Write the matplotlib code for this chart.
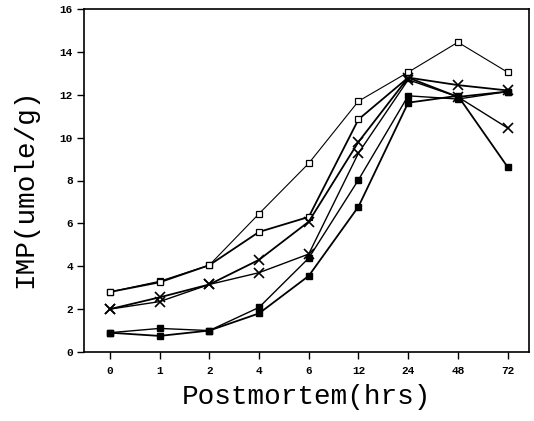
import matplotlib
matplotlib.use("Agg")
import matplotlib.pyplot as plt

categories = ["0", "1", "2", "4", "6", "12", "24", "48", "72"]

s_open_thin = [2.8, 3.3, 4.05, 6.45, 8.8, 11.7, 13.05, 14.45, 13.05]
s_open_thick = [2.8, 3.25, 4.05, 5.6, 6.3, 10.85, 12.8, 11.9, 12.15]
s_x_a = [2.0, 2.55, 3.15, 4.3, 6.08, 9.8, 12.8, 12.45, 12.2]
s_x_b = [2.0, 2.35, 3.15, 3.7, 4.57, 9.28, 12.7, 11.9, 10.45]
s_fill_a = [0.9, 1.1, 1.0, 2.08, 4.38, 8.03, 11.95, 11.8, 12.15]
s_fill_b = [0.9, 0.75, 1.0, 1.8, 3.55, 6.78, 11.63, 11.95, 8.63]

yticks = [0, 2, 4, 6, 8, 10, 12, 14, 16]

fig = plt.figure(figsize=(5.34, 4.21), dpi=100)
ax = fig.add_axes([84/534, 1-352/421, (529-84)/534, (352-9)/421])

x = list(range(len(categories)))
ax.plot(x, s_open_thin, color="black", lw=0.8, marker="s", ms=4.5, mfc="white", mec="black", mew=0.9)
ax.plot(x, s_open_thick, color="black", lw=1.3, marker="s", ms=4.5, mfc="white", mec="black", mew=0.9)
ax.plot(x, s_x_a, color="black", lw=1.3, marker="x", ms=6.5, mew=1.2)
ax.plot(x, s_x_b, color="black", lw=1.0, marker="x", ms=6.5, mew=1.2)
ax.plot(x, s_fill_a, color="black", lw=1.0, marker="s", ms=5, mfc="black", mec="black")
ax.plot(x, s_fill_b, color="black", lw=1.3, marker="s", ms=5, mfc="black", mec="black")

ax.set_xlim(-0.52, 8.43)
ax.set_ylim(0, 16)
ax.set_xticks(x)
ax.set_xticklabels(categories)
ax.set_yticks(yticks)
ax.set_yticklabels([str(v) for v in yticks])

for lab in ax.get_xticklabels() + ax.get_yticklabels():
    lab.set_fontfamily("Liberation Mono")
    lab.set_fontweight("bold")
    lab.set_fontsize(8)

ax.tick_params(axis="x", direction="out", length=5, width=1, pad=5)
ax.tick_params(axis="y", direction="out", length=5, width=1, pad=3)
for sp in ax.spines.values():
    sp.set_linewidth(1.2)

ax.set_xlabel("Postmortem(hrs)", fontfamily="Liberation Mono", fontsize=20, labelpad=6)
ax.set_ylabel("IMP(umole/g)", fontfamily="Liberation Mono", fontsize=20)
ax.yaxis.set_label_coords((38 - 84) / 445, 0.478)

fig.savefig("out.png", dpi=100)
